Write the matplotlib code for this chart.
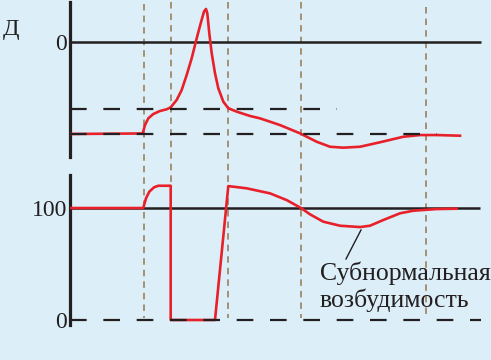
import matplotlib
matplotlib.use("Agg")
import matplotlib.pyplot as plt

# ---- data ----
# top panel: membrane potential (mV) vs time (arbitrary units)
ap_t = [0, 7.27, 7.5, 7.83, 8.33, 9.0, 9.67, 10.07, 10.67, 11.17, 11.67, 12.17,
        12.67, 13.07, 13.4, 13.6, 13.73, 13.93, 14.17, 14.5, 14.83, 15.33, 15.83,
        16.67, 18.0, 19.0, 21.0, 23.0, 24.67, 26.0, 27.33, 29.0, 31.0, 33.33,
        35.0, 36.67, 39.0]
ap_v = [-70.0, -69.6, -63.2, -58.1, -54.8, -52.5, -51.2, -49.7, -44.1, -36.5,
        -25.1, -12.4, 2.8, 14.2, 23.1, 25.1, 21.8, 6.6, -8.6, -23.8, -35.2, -45.4,
        -50.4, -53.0, -56.3, -58.1, -63.2, -69.5, -75.9, -79.7, -80.4, -79.7,
        -76.3, -72.1, -70.8, -70.8, -71.3]
zero_level = 0
threshold = -51
resting = -70

# bottom panel: excitability (%)
ex_t = [0, 7.33, 7.6, 7.93, 8.4, 8.83, 10.07, 10.07, 14.5, 15.83, 17.67, 20.0,
        21.67, 23.1, 24.0, 25.33, 27.0, 29.0, 30.0, 31.33, 33.0, 34.33, 36.67,
        38.67]
ex_v = [100, 100, 108.7, 114.6, 118.5, 119.9, 119.9, 0, 0, 119.6, 117.6, 113.1,
        107.1, 100, 94.4, 87.8, 84.2, 83.0, 84.2, 89.3, 95.3, 97.6, 99.1, 99.4]
norm_level = 100

phase_marks = [7.35, 10.07, 15.83, 23.1, 35.6]
top_ticks = [0]
top_ticklabels = ["0"]
bot_ticks = [0, 100]
bot_ticklabels = ["0", "100"]
panel_label = "Д"
annot_lines = ["Субнормальная", "возбудимость"]
annot_point = (29.1, 80.4)
annot_tail = (27.6, 54.5)
annot_text_pos = (25.0, 35.7, 11.6)

# ---- style ----
W, H = 491, 360
BG = "#dceef8"
INK = "#231f20"
RED = "#e8202a"
TAN = "#a08a6a"
SERIF = ["Liberation Serif", "DejaVu Serif"]

fig = plt.figure(figsize=(W / 100, H / 100), dpi=100, facecolor=BG)

def px_axes(x0, y0, x1, y1):
    return fig.add_axes([x0 / W, 1 - y1 / H, (x1 - x0) / W, (y1 - y0) / H])

XMAX = 42.1

# overlay for vertical phase lines
ov = px_axes(70, 0, 491, 360)
ov.set_xlim(0, XMAX)
ov.set_ylim(H, 0)
ov.axis("off")
ov.patch.set_alpha(0)
v_tops = [4, 2, 2, 2, 7]
for t, top in zip(phase_marks, v_tops):
    ov.plot([t, t], [top, 318], color=TAN, lw=1.3, ls=(0, (3.6, 2.8)), zorder=1)

black_dash = (0, (7.5, 7.5))

# top panel
ax1 = px_axes(70, 2, 491, 157)
ax1.set_xlim(0, XMAX)
ax1.set_ylim(-87.5, 30.4)
ax1.patch.set_alpha(0)
ax1.hlines(zero_level, 0, 41.1, color=INK, lw=1.8, zorder=2)
ax1.plot(ap_t, ap_v, color=RED, lw=1.9, zorder=3, solid_joinstyle="round")
ax1.hlines(threshold, 0, 26.7, color=INK, lw=1.6, ls=black_dash, zorder=4)
ax1.hlines(resting, 0, 36.7, color=INK, lw=1.6, ls=black_dash, zorder=4)

# bottom panel
ax2 = px_axes(70, 175, 491, 325)
ax2.set_xlim(0, XMAX)
ax2.set_ylim(-4.46, 129.5)
ax2.patch.set_alpha(0)
ax2.plot(ex_t, ex_v, color=RED, lw=1.9, zorder=3, solid_joinstyle="round")
ax2.hlines(norm_level, 0, 41.0, color=INK, lw=1.8, zorder=2)
ax2.hlines(0, 0, 41.1, color=INK, lw=1.6, ls=black_dash, zorder=4)
ax2.plot([annot_point[0], annot_tail[0]], [annot_point[1], annot_tail[1]],
         color=INK, lw=1.0, zorder=4)
for line, yb in zip(annot_lines, annot_text_pos[1:]):
    ax2.text(annot_text_pos[0], yb, line, ha="left", va="baseline",
             fontsize=18.5, color=INK, family=SERIF)

for ax, ticks, labels in ((ax1, top_ticks, top_ticklabels), (ax2, bot_ticks, bot_ticklabels)):
    for s in ("top", "right", "bottom"):
        ax.spines[s].set_visible(False)
    ax.spines["left"].set_linewidth(2.3)
    ax.spines["left"].set_color(INK)
    ax.set_xticks([])
    ax.set_yticks(ticks)
    ax.set_yticklabels(labels, family=SERIF, fontsize=17, color=INK)
    ax.tick_params(axis="y", length=0, pad=2)

fig.text(3 / W, 1 - 35 / H, panel_label, ha="left", va="baseline",
         fontsize=17.5, color=INK, family=SERIF)

fig.savefig("out.png", dpi=100, facecolor=BG)
